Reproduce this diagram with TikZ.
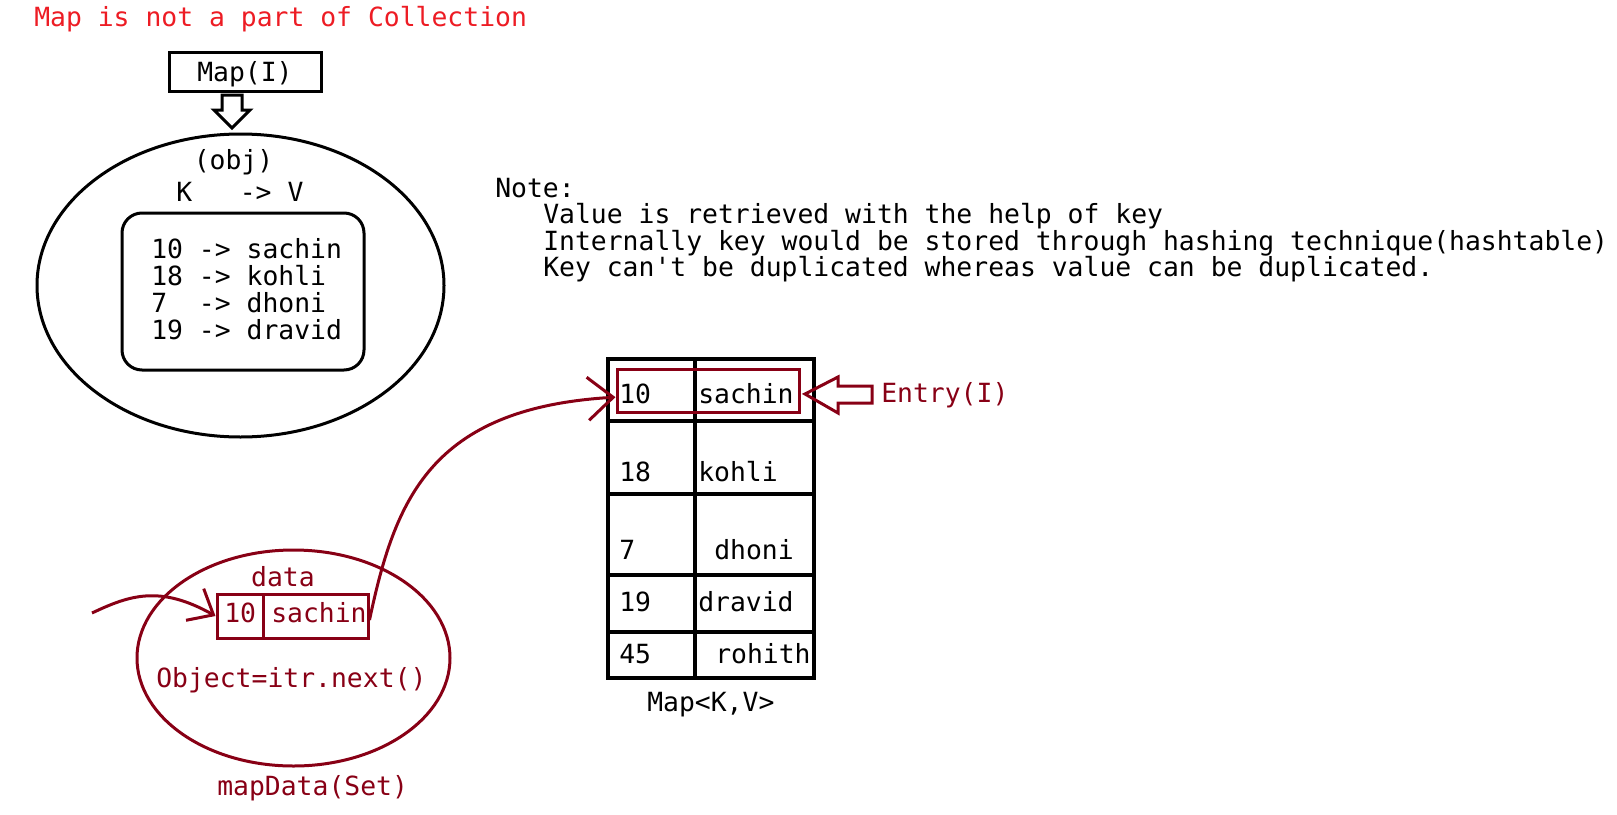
\documentclass[tikz,border=0pt]{standalone}
\usepackage{fontspec}
\setmonofont{DejaVu Sans Mono}
\usetikzlibrary{arrows.meta,shapes.geometric}
\definecolor{mred}{RGB}{237,28,36}
\definecolor{dred}{RGB}{136,0,21}
\begin{document}
\begin{tikzpicture}[x=0.75pt,y=-0.75pt,
  txt/.style={inner sep=0,anchor=base west,font=\ttfamily\fontsize{19.8}{23}\selectfont},
  ctxt/.style={txt,anchor=base},
  blk/.style={draw=black,line width=2.25pt},
  rln/.style={draw=dred,line width=2.25pt},
  tline/.style={draw=black,line width=2.6pt},
  hollow/.style={line width=2.25pt,line join=miter},
  barb/.style={-{Straight Barb[length=#1,width=1.7*#1]}}]
\useasboundingbox (0,0) rectangle (1617,814);

% title
\node[txt,text=mred] (title) at (34,26) {Map is not a part of Collection};

% Map(I) box and hollow arrow
\node[blk,minimum width=114pt,minimum height=29.25pt,inner sep=0] (mapbox) at (245,71.5) {};
\node[txt] (maptxt) at (197,81) {Map(I)};
\draw[hollow,draw=black] (222,95) -- (242,95) -- (242,110) -- (250,110) -- (232,128) -- (214,110) -- (222,110) -- cycle;

% big ellipse
\node[blk,ellipse,minimum width=305.25pt,minimum height=227.25pt,inner sep=0] (obj) at (240.5,285.5) {};
\node[ctxt] (objtxt) at (233.5,169) {(obj)};
\node[txt] (kv) at (176,201) {K~~~->~V};
\node[blk,rounded corners=15pt,minimum width=181.5pt,minimum height=117.75pt,inner sep=0] (inner) at (243,291.5) {};
\node[txt] (l1) at (151,258) {10 -> sachin};
\node[txt] (l2) at (151,285) {18 -> kohli};
\node[txt] (l3) at (151,312) {7~~-> dhoni};
\node[txt] (l4) at (151,339) {19 -> dravid};

% note
\node[txt] (note) at (495,197) {Note:};
\node[txt] (n1) at (543,223) {Value is retrieved with the help of key};
\node[txt] (n2) at (543,250) {Internally key would be stored through hashing technique(hashtable)};
\node[txt] (n3) at (543,276) {Key can't be duplicated whereas value can be duplicated.};

% table
\node[tline,minimum width=154.5pt,minimum height=239.25pt,inner sep=0] (tab) at (711,518.5) {};
\draw[tline] (695,359) -- (695,678);
\draw[tline] (608,421) -- (814,421);
\draw[tline] (608,494) -- (814,494);
\draw[tline] (608,575) -- (814,575);
\draw[tline] (608,632) -- (814,632);
\node[txt] (t1k) at (619,403) {10};
\node[txt] (t1v) at (698,403) {sachin};
\node[txt] (t2k) at (619,481) {18};
\node[txt] (t2v) at (698,481) {kohli};
\node[txt] (t3k) at (619,559) {7};
\node[txt] (t3v) at (714,559) {dhoni};
\node[txt] (t4k) at (619,611) {19};
\node[txt] (t4v) at (698,611) {dravid};
\node[txt] (t5k) at (619,663) {45};
\node[txt] (t5v) at (715,663) {rohith};
\node[txt] (maplbl) at (647,711) {Map<K,V>};

% entry box and hollow arrow
\node[rln,minimum width=136.5pt,minimum height=32.25pt,inner sep=0] (ent) at (708,390.5) {};
\draw[hollow,draw=dred] (805,394) -- (838,377) -- (838,386) -- (872,386) -- (872,403) -- (838,403) -- (838,413) -- cycle;
\node[txt,text=dred] (entlbl) at (881,402) {Entry(I)};

% mapData ellipse
\node[rln,ellipse,minimum width=234.75pt,minimum height=162pt,inner sep=0] (md) at (293.5,658) {};
\node[ctxt,text=dred] (datalbl) at (283,586) {data};
\node[rln,minimum width=34.5pt,minimum height=33pt,inner sep=0] (dk) at (240,616) {};
\node[rln,minimum width=78.75pt,minimum height=33pt,inner sep=0] (dv) at (315.5,616) {};
\node[txt,text=dred] (dktxt) at (224,622) {10};
\node[txt,text=dred] (dvtxt) at (271,622) {sachin};
\node[txt,text=dred] (objnext) at (156,687) {Object=itr.next()};
\node[txt,text=dred] (mdlbl) at (217,795) {mapData(Set)};

% arrows
\coordinate (src) at (92,613);
\draw[dred,line width=2.25pt,barb=16pt] (src) .. controls (130,595) and (160,585) .. (dk.west);
\draw[dred,line width=2.25pt,barb=19pt] ([yshift=-3pt]dv.east) .. controls (395,500) and (430,408) .. ([yshift=-5pt]ent.west);
\end{tikzpicture}
\end{document}
